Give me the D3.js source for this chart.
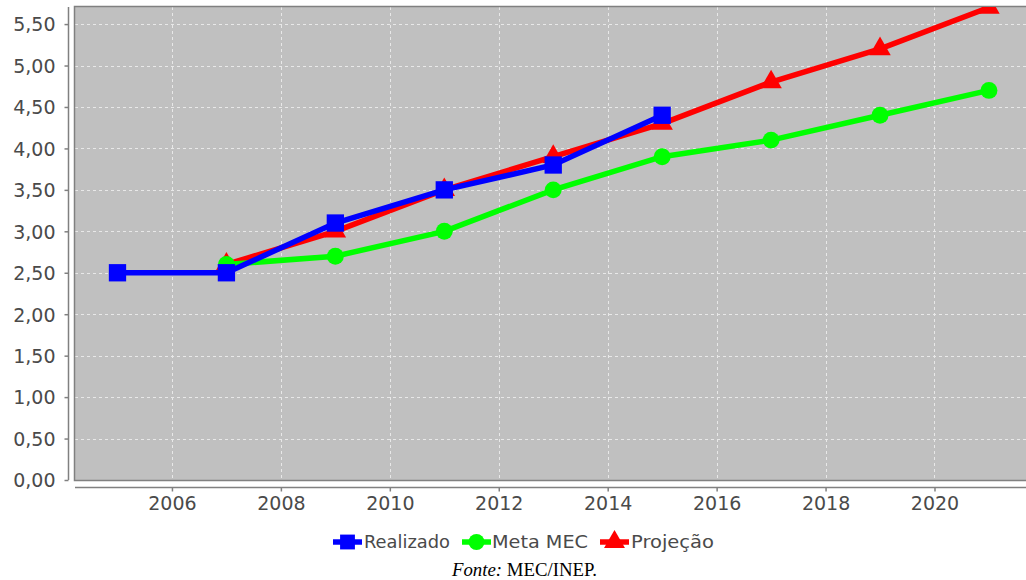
<!DOCTYPE html>
<html><head><meta charset="utf-8">
<script src="https://cdn.jsdelivr.net/npm/d3@7"></script>
<style>body{margin:0;background:#fff}svg{display:block}</style>
</head><body>
<svg id="c" width="1026" height="580"></svg>
<script>
const yearsRealizado = [2005, 2007, 2009, 2011, 2013, 2015];
const valuesRealizado = [2.5, 2.5, 3.1, 3.5, 3.8, 4.4];
const yearsMeta = [2007, 2009, 2011, 2013, 2015, 2017, 2019, 2021];
const valuesMeta = [2.6, 2.7, 3.0, 3.5, 3.9, 4.1, 4.4, 4.7];
const yearsProjecao = [2007, 2009, 2011, 2013, 2015, 2017, 2019, 2021];
const valuesProjecao = [2.6, 3.0, 3.5, 3.9, 4.3, 4.8, 5.2, 5.7];
const xTicks = [2006, 2008, 2010, 2012, 2014, 2016, 2018, 2020];
const yTicks = [0, 0.5, 1, 1.5, 2, 2.5, 3, 3.5, 4, 4.5, 5, 5.5];
const seriesNames = ["Realizado", "Meta MEC", "Projeção"];
const seriesColors = ["#0000ff", "#00ff00", "#ff0000"];
const sourceLabel = "Fonte:";
const sourceText = " MEC/INEP.";

const svg = d3.select("#c");
const L = 75, R = 1026, T = 7, B = 480;
const x = d3.scaleLinear().domain([2004.22, 2021.68]).range([L, R]);
const y = d3.scaleLinear().domain([0, 5.706]).range([B, T]);
const fmt = v => d3.format(".2f")(v).replace(".", ",");
const font = "DejaVu Sans, sans-serif";

svg.append("defs").append("clipPath").attr("id", "clip")
  .append("rect").attr("x", L).attr("y", T).attr("width", R - L).attr("height", B - T);

svg.append("rect").attr("x", L).attr("y", T).attr("width", R - L).attr("height", B - T)
  .attr("fill", "#c0c0c0");

// grid
const g = svg.append("g");
g.selectAll(".gx").data(xTicks).join("line")
  .attr("x1", d => Math.round(x(d)) + 0.5).attr("x2", d => Math.round(x(d)) + 0.5)
  .attr("y1", T).attr("y2", B)
  .attr("stroke", "#e8e8e8").attr("stroke-dasharray", "3,3");
g.selectAll(".gy").data(yTicks).join("line")
  .attr("y1", d => Math.round(y(d)) + 0.5).attr("y2", d => Math.round(y(d)) + 0.5)
  .attr("x1", L).attr("x2", R)
  .attr("stroke", "#e8e8e8").attr("stroke-dasharray", "3,3");

svg.append("rect").attr("x", L - 0.5).attr("y", T - 0.5).attr("width", R - L + 2).attr("height", B - T + 1)
  .attr("fill", "none").attr("stroke", "#808080").attr("stroke-width", 1.5);

// axes
const yAxis = svg.append("g").attr("transform", `translate(68.5,0)`)
  .call(d3.axisLeft(y).tickValues(yTicks).tickFormat(fmt).tickSize(4).tickSizeOuter(0));
const xAxis = svg.append("g").attr("transform", `translate(0,487.5)`)
  .call(d3.axisBottom(x).tickValues(xTicks).tickFormat(d3.format("d")).tickSize(4).tickSizeOuter(0));
[yAxis, xAxis].forEach(a => {
  a.select(".domain").attr("stroke", "#808080").attr("stroke-width", 1.5);
  a.selectAll(".tick line").attr("stroke", "#808080").attr("stroke-width", 1.5);
  a.selectAll("text").attr("fill", "#4a4a4a").attr("font-family", font).attr("font-size", 19);
});
yAxis.select(".domain").attr("d", `M0,${T}V${B}`);
xAxis.select(".domain").attr("d", `M${L},0H${R}`);
yAxis.selectAll("text").attr("x", -13).attr("dy", "0.36em");
xAxis.selectAll("text").attr("y", 9);

// series
const series = [
  {name: seriesNames[2], color: seriesColors[2], xs: yearsProjecao, vs: valuesProjecao, shape: "tri"},
  {name: seriesNames[1], color: seriesColors[1], xs: yearsMeta, vs: valuesMeta, shape: "circle"},
  {name: seriesNames[0], color: seriesColors[0], xs: yearsRealizado, vs: valuesRealizado, shape: "square"}
];
const sym = {
  tri: d3.symbol().type(d3.symbolTriangle).size(200),
  circle: d3.symbol().type(d3.symbolCircle).size(225),
  square: d3.symbol().type(d3.symbolSquare).size(300)
};
const plot = svg.append("g").attr("clip-path", "url(#clip)");
const line = d3.line().x(d => x(d[0])).y(d => y(d[1]));
series.forEach(s => {
  const pts = s.xs.map((v, i) => [v, s.vs[i]]);
  plot.append("path").attr("d", line(pts)).attr("fill", "none")
    .attr("stroke", s.color).attr("stroke-width", 5.5);
  plot.selectAll(null).data(pts).join("path")
    .attr("transform", d => `translate(${x(d[0])},${y(d[1])})`)
    .attr("d", sym[s.shape]()).attr("fill", s.color);
});

// legend
const legendItems = [
  {x0: 333, tx: 364, w: 86, i: 0, shape: "square"},
  {x0: 462, tx: 492, w: 96, i: 1, shape: "circle"},
  {x0: 600, tx: 631, w: 83, i: 2, shape: "tri"}
];
const ly = 542;
const lg = svg.append("g");
legendItems.forEach(it => {
  const c = seriesColors[it.i];
  lg.append("line").attr("x1", it.x0).attr("x2", it.x0 + 29).attr("y1", ly).attr("y2", ly)
    .attr("stroke", c).attr("stroke-width", 5.5);
  lg.append("path").attr("transform", `translate(${it.x0 + 14.5},${ly})`)
    .attr("d", d3.symbol().type(it.shape === "square" ? d3.symbolSquare : it.shape === "circle" ? d3.symbolCircle : d3.symbolTriangle)
      .size(it.shape === "square" ? 220 : it.shape === "circle" ? 200 : 190)())
    .attr("fill", c);
  lg.append("text").attr("x", it.tx).attr("y", ly).attr("dy", "0.36em")
    .attr("font-family", font).attr("font-size", 18).attr("fill", "#4a4a4a")
    .attr("textLength", it.w).attr("lengthAdjust", "spacingAndGlyphs")
    .text(seriesNames[it.i]);
});

const st = svg.append("text").attr("x", 524.5).attr("y", 576).attr("text-anchor", "middle")
  .attr("font-family", "Liberation Serif, Times New Roman, serif").attr("font-size", 18.8).attr("fill", "#000");
st.append("tspan").attr("font-style", "italic").text(sourceLabel);
st.append("tspan").text(sourceText);
</script>
</body></html>
